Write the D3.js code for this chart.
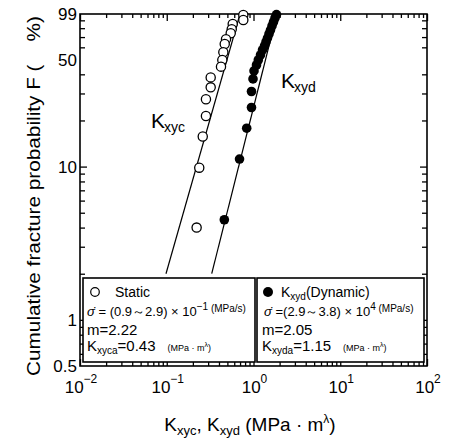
<!DOCTYPE html>
<html>
<head>
<meta charset="utf-8">
<script src="https://cdn.jsdelivr.net/npm/d3@7"></script>
<style>
  body { margin: 0; background: #fff; }
  svg { display: block; font-family: "Liberation Sans", Arial, sans-serif; }
</style>
</head>
<body>
<div id="chart"></div>
<script>
// -- Data --------------------------------------------------------
const staticK = [0.763, 0.763, 0.576, 0.561, 0.546, 0.482, 0.466, 0.449, 0.437, 0.422, 0.321, 0.321, 0.283, 0.283, 0.260, 0.237, 0.221];
const staticF = [97.5, 90.5, 85.2, 78.7, 74.1, 67.7, 63.1, 55.7, 49.6, 44.9, 38.2, 32.9, 27.5, 21.4, 15.7, 9.84, 4.0];

const dynamicK = [1.841, 1.770, 1.700, 1.634, 1.570, 1.509, 1.450, 1.393, 1.339, 1.270, 1.204, 1.136, 1.083, 1.014, 0.987, 0.948, 0.948, 0.835, 0.690, 0.461];
const dynamicF = [98.2, 93.2, 87.8, 82.7, 77.8, 73.3, 69.0, 65.0, 61.2, 57.7, 53.5, 49.6, 46.0, 42.1, 37.3, 30.9, 24.3, 17.8, 11.2, 4.5];

// fitted Weibull lines (end points)
const staticFitK = [0.098, 0.699];
const staticFitF = [2.0, 99];
const dynamicFitK = [0.330, 1.866];
const dynamicFitF = [2.0, 99];

const xTickExps = [-2, -1, 0, 1, 2];
const yTickLabels = [99, 50, 10, 1, 0.5];

// -- Layout -------------------------------------------------------
const W = 452, H = 444;
const plotL = 80, plotR = 427, plotT = 14, plotB = 366;

const svg = d3.select("#chart").append("svg").attr("width", W).attr("height", H);

const x = d3.scaleLog().domain([0.01, 100]).range([plotL, plotR]);
const y = d3.scaleLog().domain([0.5, 99]).range([plotB, plotT]);

// minor tick values
const xMinor = [];
for (let e = -2; e < 2; e++) for (let m = 2; m <= 9; m++) xMinor.push(m * Math.pow(10, e));
const yMinor = [];
for (let e = -1; e < 2; e++) for (let m = 1; m <= 9; m++) {
  const v = +(m * Math.pow(10, e)).toFixed(3);
  if (v > 0.5 && v < 99 && yTickLabels.indexOf(v) < 0) yMinor.push(v);
}
const xMajor = xTickExps.map((e) => Math.pow(10, e));

function tickAxis(gen, values, size, tx, ty) {
  const g = svg.append("g").attr("transform", `translate(${tx},${ty})`)
    .call(gen.tickValues(values).tickSizeInner(size).tickSizeOuter(0).tickFormat(""));
  g.select(".domain").remove();
  g.selectAll("line").attr("stroke", "#000").attr("stroke-width", 1.3);
}

tickAxis(d3.axisBottom(x), xMajor, -7, 0, plotB);
tickAxis(d3.axisBottom(x), xMinor, -4, 0, plotB);
tickAxis(d3.axisTop(x), xMajor, -7, 0, plotT);
tickAxis(d3.axisTop(x), xMinor, -4, 0, plotT);
tickAxis(d3.axisLeft(y), [1, 10], -7, plotL, 0);
tickAxis(d3.axisLeft(y), yMinor, -5, plotL, 0);
tickAxis(d3.axisRight(y), [1, 10], -7, plotR, 0);
tickAxis(d3.axisRight(y), yMinor, -5, plotR, 0);

// frame
svg.append("rect")
  .attr("x", plotL).attr("y", plotT)
  .attr("width", plotR - plotL).attr("height", plotB - plotT)
  .attr("fill", "none").attr("stroke", "#000").attr("stroke-width", 1.6);

// -- Tick labels --------------------------------------------------
xTickExps.forEach((e) => {
  const t = svg.append("text")
    .attr("x", x(Math.pow(10, e)) + 1).attr("y", 393)
    .attr("text-anchor", "middle").attr("font-size", 17);
  t.append("tspan").text("10");
  t.append("tspan").attr("dy", -10).attr("font-size", 12).text(e < 0 ? "\u2212" + (-e) : e);
});

yTickLabels.forEach((v) => {
  svg.append("text")
    .attr("x", 77).attr("y", y(v)).attr("dy", "0.36em")
    .attr("text-anchor", "end").attr("font-size", 17)
    .text(v);
});

// axis titles
svg.append("text")
  .attr("transform", "translate(40,196) rotate(-90)")
  .attr("text-anchor", "middle").attr("font-size", 19)
  .attr("textLength", 360).attr("lengthAdjust", "spacingAndGlyphs")
  .text("Cumulative fracture probability F (\u00a0\u00a0\u00a0\u00a0%)");

const xt = svg.append("text")
  .attr("x", 250).attr("y", 431)
  .attr("text-anchor", "middle").attr("font-size", 19);
xt.append("tspan").text("K");
xt.append("tspan").attr("font-size", 13).attr("dy", 4).text("xyc");
xt.append("tspan").attr("dy", -4).text(", K");
xt.append("tspan").attr("font-size", 13).attr("dy", 4).text("xyd");
xt.append("tspan").attr("dy", -4).text(" (MPa \u00b7 m");
xt.append("tspan").attr("font-size", 12).attr("dy", -8).text("\u03bb");
xt.append("tspan").attr("dy", 8).text(")");

// -- Fit lines ----------------------------------------------------
const line = d3.line().x((d) => x(d[0])).y((d) => y(d[1]));
[[staticFitK, staticFitF], [dynamicFitK, dynamicFitF]].forEach(([ks, fs]) => {
  svg.append("path")
    .datum(ks.map((k, i) => [k, fs[i]]))
    .attr("d", line)
    .attr("fill", "none").attr("stroke", "#000").attr("stroke-width", 1.2);
});

// -- Points -------------------------------------------------------
svg.append("g").selectAll("circle")
  .data(staticK.map((k, i) => [k, staticF[i]]))
  .join("circle")
  .attr("cx", (d) => x(d[0])).attr("cy", (d) => y(d[1]))
  .attr("r", 4.6)
  .attr("fill", "#fff").attr("stroke", "#000").attr("stroke-width", 1.3);

svg.append("g").selectAll("circle")
  .data(dynamicK.map((k, i) => [k, dynamicF[i]]))
  .join("circle")
  .attr("cx", (d) => x(d[0])).attr("cy", (d) => y(d[1]))
  .attr("r", 4.8)
  .attr("fill", "#000");

// -- Curve labels -------------------------------------------------
function kLabel(px, py, sub) {
  const t = svg.append("text").attr("x", px).attr("y", py).attr("font-size", 21);
  t.append("tspan").text("K");
  t.append("tspan").attr("font-size", 14).attr("dy", 4).attr("dx", -1).text(sub);
}
kLabel(151, 128, "xyc");
kLabel(281, 88, "xyd");

// -- Legend boxes -------------------------------------------------
function box(x0, x1) {
  svg.append("rect")
    .attr("x", x0).attr("y", 278).attr("width", x1 - x0).attr("height", 84)
    .attr("fill", "#fff").attr("stroke", "#000").attr("stroke-width", 1.6);
}
box(83, 255);
box(257, 424);

function rateLine(px, range, exp) {
  const t = svg.append("text").attr("x", px).attr("y", 316).attr("font-size", 13);
  t.append("tspan").attr("font-style", "italic").text("\u03c3\u0307");
  t.append("tspan").text(" =" + range + " \u00d7 10");
  t.append("tspan").attr("font-size", 10).attr("dy", -6).text(exp);
  t.append("tspan").attr("font-size", 10).attr("dy", 2).text(" (MPa/s)");
}
function mLine(px, txt) {
  svg.append("text").attr("x", px).attr("y", 335).attr("font-size", 15).text(txt);
}
function kaLine(px, sub, val) {
  const t = svg.append("text").attr("x", px).attr("y", 351).attr("font-size", 15);
  t.append("tspan").text("K");
  t.append("tspan").attr("font-size", 10).attr("dy", 3).text(sub);
  t.append("tspan").attr("dy", -3).text("=" + val);
  t.append("tspan").attr("font-size", 9).attr("dx", 12).text("(MPa \u00b7 m");
  t.append("tspan").attr("font-size", 7).attr("dy", -4).text("\u03bb");
  t.append("tspan").attr("font-size", 9).attr("dy", 4).text(")");
}

// static
svg.append("circle").attr("cx", 95).attr("cy", 292).attr("r", 4.3)
  .attr("fill", "#fff").attr("stroke", "#000").attr("stroke-width", 1.2);
svg.append("text").attr("x", 115).attr("y", 297).attr("font-size", 14).text("Static");
rateLine(87, " (0.9\uff5e2.9)", "\u22121");
mLine(87, "m=2.22");
kaLine(87, "xyca", "0.43");

// dynamic
svg.append("circle").attr("cx", 268).attr("cy", 292).attr("r", 5).attr("fill", "#000");
const dy0 = svg.append("text").attr("x", 281).attr("y", 297).attr("font-size", 14);
dy0.append("tspan").text("K");
dy0.append("tspan").attr("font-size", 10).attr("dy", 3).text("xyd");
dy0.append("tspan").attr("dy", -3).text("(Dynamic)");
rateLine(264, "(2.9\uff5e3.8)", "4");
mLine(262, "m=2.05");
kaLine(262, "xyda", "1.15");
</script>
</body>
</html>
